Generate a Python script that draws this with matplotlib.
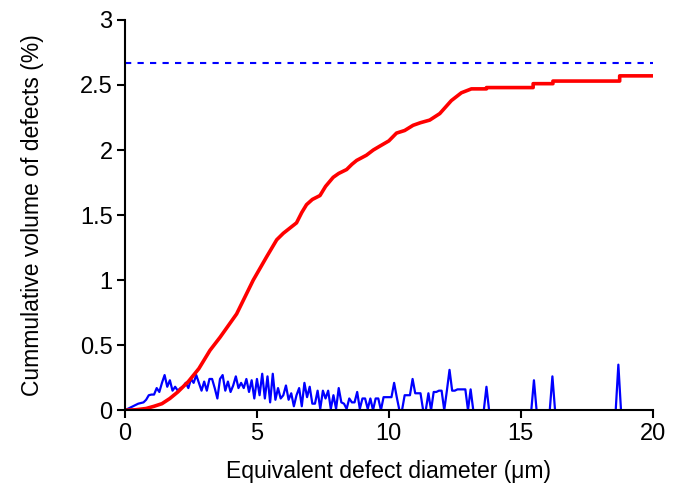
import numpy as np
import matplotlib
matplotlib.use("Agg")
import matplotlib.pyplot as plt

plt.rcParams['font.family'] = ['Liberation Sans', 'DejaVu Sans']

# cumulative volume of defects (%)
red_x = [0.0, 0.4, 0.8, 1.1, 1.4, 1.7, 2.0, 2.4, 2.8, 3.22, 3.6, 4.23, 4.86,
         5.37, 5.75, 6.0, 6.25, 6.5, 6.7, 6.88, 7.1, 7.39, 7.6, 7.89, 8.1, 8.4,
         8.6, 8.78, 9.15, 9.41, 9.66, 10.0, 10.29, 10.6, 10.92, 11.2, 11.55,
         11.93, 12.15, 12.37, 12.75, 13.13, 13.7, 13.7, 15.47, 15.47, 16.22,
         16.22, 18.75, 18.75, 20.0]
red_y = [0.0, 0.003, 0.013, 0.03, 0.05, 0.09, 0.14, 0.22, 0.32, 0.46, 0.56,
         0.74, 1.0, 1.18, 1.31, 1.36, 1.40, 1.44, 1.52, 1.58, 1.62, 1.65, 1.72,
         1.79, 1.82, 1.85, 1.89, 1.92, 1.96, 2.0, 2.03, 2.07, 2.13, 2.15, 2.19,
         2.21, 2.23, 2.28, 2.33, 2.38, 2.44, 2.47, 2.47, 2.48, 2.48, 2.51,
         2.51, 2.53, 2.53, 2.57, 2.57]

total_level = 2.67

# volume per 0.1 um bin, 0.0 .. 13.2 um
bin_width = 0.1
blue_dense = [
    0.0, 0.01, 0.02, 0.03, 0.04, 0.05, 0.055, 0.06, 0.08, 0.115,
    0.12, 0.12, 0.17, 0.14, 0.21, 0.27, 0.18, 0.23, 0.15, 0.18,
    0.15, 0.17, 0.18, 0.21, 0.17, 0.24, 0.21, 0.27, 0.21, 0.15,
    0.22, 0.15, 0.24, 0.24, 0.17, 0.09, 0.24, 0.27, 0.15, 0.22,
    0.14, 0.19, 0.26, 0.17, 0.21, 0.17, 0.24, 0.14, 0.23, 0.09,
    0.24, 0.115, 0.28, 0.09, 0.26, 0.06, 0.28, 0.08, 0.17, 0.09,
    0.115, 0.19, 0.08, 0.13, 0.03, 0.115, 0.17, 0.03, 0.21, 0.1,
    0.18, 0.05, 0.05, 0.15, 0.01, 0.15, 0.09, 0.15, 0.01, 0.115,
    0.01, 0.17, 0.06, 0.05, 0.01, 0.09, 0.06, 0.06, 0.14, 0.01,
    0.09, 0.09, 0.01, 0.09, 0.0, 0.09, 0.09, 0.0, 0.1, 0.1,
    0.1, 0.1, 0.21, 0.1, 0.0, 0.0, 0.115, 0.115, 0.115, 0.24,
    0.13, 0.13, 0.13, 0.0, 0.0, 0.13, 0.0, 0.14, 0.14, 0.15,
    0.15, 0.0, 0.15, 0.31, 0.15, 0.15, 0.16, 0.16, 0.16, 0.16,
    0.0, 0.16, 0.0,
]
# isolated large defects
spike_x = [13.7, 15.5, 16.2, 18.7]
spike_y = [0.18, 0.23, 0.26, 0.35]

blue_x = np.round(np.arange(0, 200 + 1) * bin_width, 1)
blue_y = np.zeros_like(blue_x)
blue_y[:len(blue_dense)] = blue_dense
for sx, sy in zip(spike_x, spike_y):
    blue_y[int(round(sx / bin_width))] = sy

fig = plt.figure(figsize=(6.87, 4.86), dpi=100)
ax = fig.add_axes([0.182, 0.156, 0.768, 0.803])

ax.plot(blue_x, blue_y, color='#0000ff', lw=1.6, zorder=2)
ax.plot(red_x, red_y, color='#ff0000', lw=2.6, zorder=3)
ax.axhline(total_level, color='#0000ff', lw=1.5, ls=(0, (3, 3)), zorder=2)

ax.set_xlim(0, 20)
ax.set_ylim(0, 3)
ax.set_xticks([0, 5, 10, 15, 20])
ax.set_yticks([0, 0.5, 1, 1.5, 2, 2.5, 3])
ax.set_yticklabels(['0', '0.5', '1', '1.5', '2', '2.5', '3'])

for side in ['top', 'right']:
    ax.spines[side].set_visible(False)
for side in ['left', 'bottom']:
    ax.spines[side].set_linewidth(1.5)
    ax.spines[side].set_zorder(4)

ax.tick_params(direction='out', length=6, width=1.5, labelsize=17, pad=3)
ax.set_xlabel('Equivalent defect diameter (\u03bcm)', fontsize=16.5, labelpad=11)
ax.set_ylabel('Cummulative volume of defects (%)', fontsize=16.5, labelpad=26)

fig.savefig('out.png', dpi=100)
